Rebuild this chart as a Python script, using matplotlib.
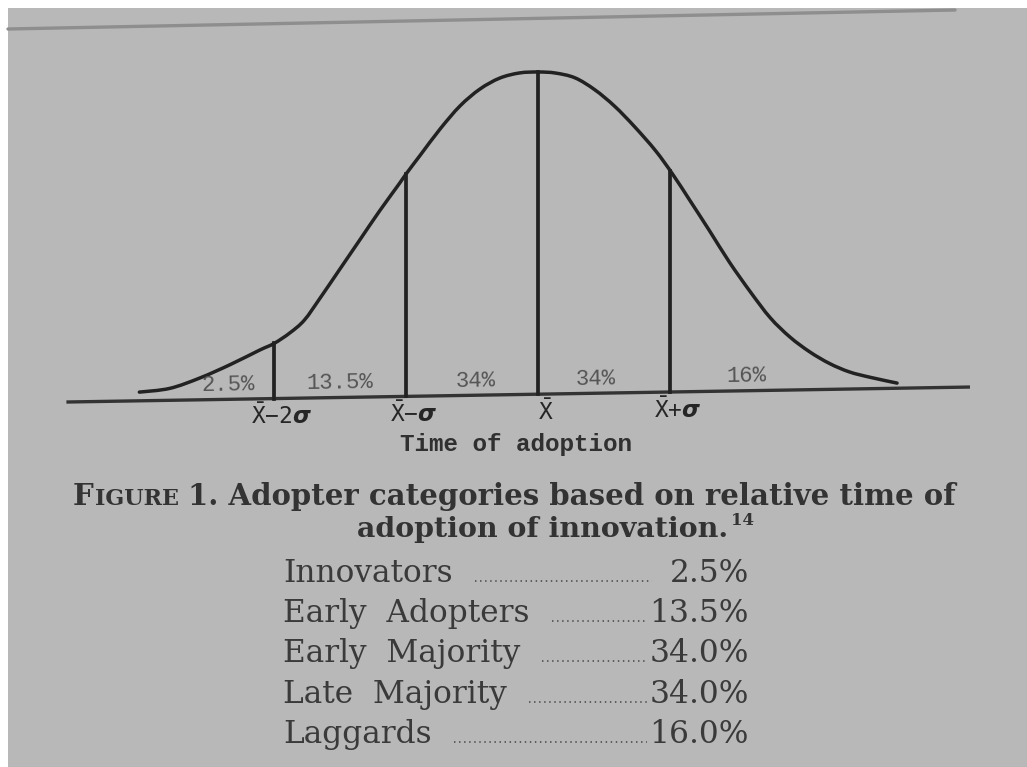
import matplotlib
matplotlib.use('Agg')
import matplotlib.pyplot as plt
import numpy as np
from matplotlib.path import Path
from matplotlib.patches import PathPatch, Rectangle
from matplotlib.transforms import Affine2D

# bell curve: position in standard deviations from the mean, height relative to the peak (=100)
curve_sd = [-3.02, -2.79, -2.56, -2.33, -2.11, -2.00, -1.88, -1.77, -1.65, -1.50,
            -1.35, -1.20, -1.05, -1.00, -0.89, -0.74, -0.59, -0.44, -0.29, -0.14,
            0.00, 0.13, 0.28, 0.43, 0.58, 0.73, 0.89, 1.02, 1.15, 1.30,
            1.45, 1.61, 1.76, 1.91, 2.06, 2.21, 2.36, 2.52, 2.72]
curve_height = [2.7, 3.7, 6.8, 10.8, 15.1, 17.1, 20.3, 24.2, 31.0, 39.9,
                48.8, 57.7, 66.1, 69.0, 74.9, 82.9, 89.9, 95.0, 98.3, 99.8,
                100.0, 99.6, 98.0, 94.2, 89.0, 82.6, 75.0, 67.6, 59.4, 49.8,
                40.0, 30.6, 22.5, 16.4, 11.7, 8.0, 5.3, 3.5, 1.6]

# category borders on the time axis
divider_sd = [-2, -1, 0, 1]
divider_labels = [r'$\bar{\mathtt{X}}\mathtt{-2}\boldsymbol{\sigma}$',
                  r'$\bar{\mathtt{X}}\mathtt{-}\boldsymbol{\sigma}$',
                  r'$\bar{\mathtt{X}}$',
                  r'$\bar{\mathtt{X}}\mathtt{+}\boldsymbol{\sigma}$']

# adopter categories and their share of all adopters
categories = ['Innovators', 'Early  Adopters', 'Early  Majority', 'Late  Majority', 'Laggards']
shares = [2.5, 13.5, 34.0, 34.0, 16.0]
share_label_sd = [-2.35, -1.50, -0.47, 0.44, 1.58]

paper = '#b8b8b8'
ink = '#222222'
W, H = 1027, 767

fig = plt.figure(figsize=(W / 100, H / 100), dpi=100, facecolor='white')

# page layer, pixel-like coordinates with origin top left
page = fig.add_axes([0, 0, 1, 1])
page.set_xlim(0, W)
page.set_ylim(H, 0)
page.axis('off')
page.add_patch(Rectangle((8, 8), W, H, facecolor=paper, edgecolor='none'))
page.plot([8, 955], [29, 10], color='#8e8e8e', lw=2.4, solid_capstyle='round')

# curve layer: x in sd units, y in relative height
ax = fig.add_axes([0, 0, 1, 1])
ax.patch.set_visible(False)
ax.axis('off')
mean_px, sd_px, base_px, unit_px = 538, 132, 394.2, 3.222
ax.set_xlim(-mean_px / sd_px, (W - mean_px) / sd_px)
ax.set_ylim((base_px - H) / unit_px, base_px / unit_px)

# the drawing sits a little askew on the page: shear so verticals stay vertical
cx, cy = ax.transData.transform((0, 0))
tilt = 0.95
tr = ax.transData + Affine2D().translate(-cx, -cy).skew_deg(0, tilt).translate(cx, cy)


def smooth_path(xs, ys):
    # Catmull-Rom through the points, as cubic bezier segments
    pts = np.column_stack([xs, ys])
    verts = [pts[0]]
    codes = [Path.MOVETO]
    n = len(pts)
    for i in range(n - 1):
        p0 = pts[max(i - 1, 0)]
        p1, p2 = pts[i], pts[i + 1]
        p3 = pts[min(i + 2, n - 1)]
        verts += [p1 + (p2 - p0) / 6, p2 - (p3 - p1) / 6, p2]
        codes += [Path.CURVE4] * 3
    return Path(verts, codes)


ax.add_patch(PathPatch(smooth_path(curve_sd, curve_height), facecolor='none',
                       edgecolor=ink, lw=2.5, transform=tr, capstyle='round'))

# time axis
ax.plot([-3.56, 3.26], [0, 0], color='#333333', lw=2.4, transform=tr)

# vertical dividers up to the curve
for s, lab in zip(divider_sd, divider_labels):
    top = np.interp(s, curve_sd, curve_height)
    ax.plot([s, s], [0, top], color=ink, lw=2.7, transform=tr)
    ax.text(s + 0.06, -1.6, lab, ha='center', va='top', fontsize=16.5,
            color='#262626', transform=tr)

for s, v in zip(share_label_sd, shares):
    ax.text(s, 1.2, '{:g}%'.format(v), ha='center', va='bottom', fontsize=16,
            family='Liberation Mono', color='#555555', transform=tr,
            rotation=tilt, rotation_mode='anchor')

page.text(516, 451, 'Time of adoption', ha='center', va='baseline', fontsize=17.5,
          family='Liberation Mono', fontweight='bold', color='#303030')

fig.canvas.draw()
renderer = fig.canvas.get_renderer()
inv = page.transData.inverted()


def right_edge(t):
    bb = t.get_window_extent(renderer)
    return inv.transform((bb.x1, bb.y0))[0]


def left_edge(t):
    bb = t.get_window_extent(renderer)
    return inv.transform((bb.x0, bb.y0))[0]


# caption, with small caps for FIGURE
cap_kw = dict(va='baseline', ha='left', family='DejaVu Serif', fontweight='bold', color='#333333')
t = page.text(73, 505, 'F', fontsize=21, **cap_kw)
t = page.text(right_edge(t) + 1, 505, 'IGURE', fontsize=16, **cap_kw)
page.text(right_edge(t) + 9, 505, '1. Adopter categories based on relative time of',
          fontsize=21, **cap_kw)
t = page.text(543, 537, 'adoption of innovation.', ha='center', va='baseline', fontsize=20.5,
              family='DejaVu Serif', fontweight='bold', color='#333333')
page.text(right_edge(t) + 2, 525, '14', fontsize=12, **cap_kw)

# category table with dotted leaders
for i, (name, v) in enumerate(zip(categories, shares)):
    y = 582 + 40.2 * i
    tn = page.text(283, y, name, ha='left', va='baseline', fontsize=22.5,
                   family='DejaVu Serif', color='#3a3a3a')
    tv = page.text(749, y, '{:.1f}%'.format(v), ha='right', va='baseline', fontsize=22.5,
                   family='DejaVu Serif', color='#3a3a3a')
    x0 = right_edge(tn) + 22
    x1 = min(652, left_edge(tv) - 3)
    page.plot([x0, x1], [y - 1, y - 1], color='#555555', lw=1.3,
              linestyle=(0, (0.8, 2.0)))

fig.savefig('out.png', dpi=100, facecolor='white')
